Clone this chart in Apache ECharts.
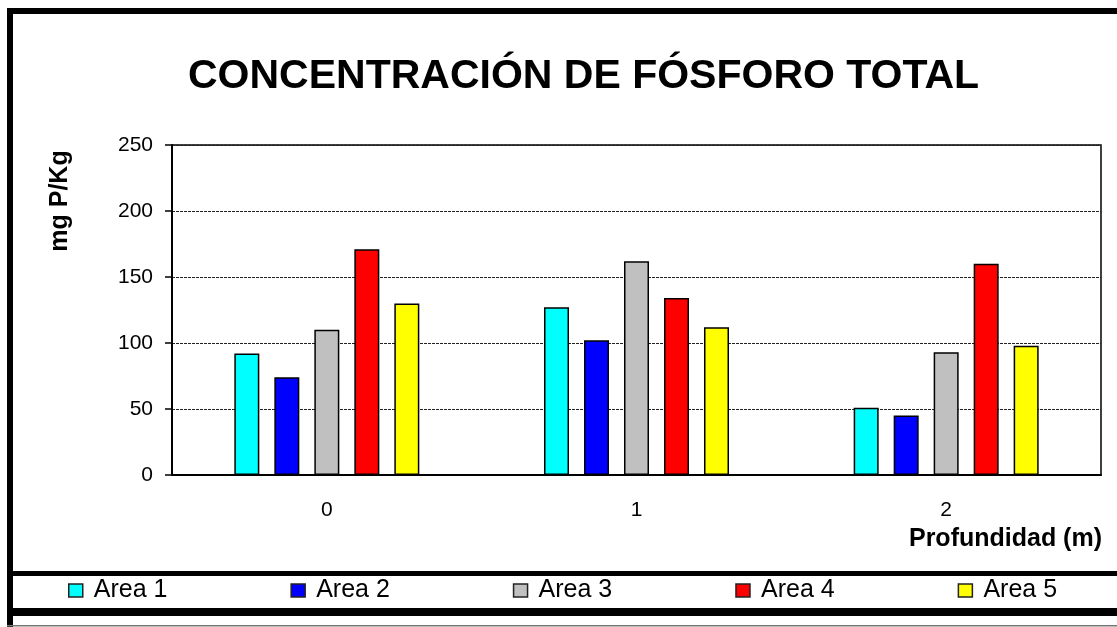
<!DOCTYPE html>
<html lang="es">
<head>
  <meta charset="UTF-8">
  <title>Concentración de fósforo total</title>
  <style>
    * { margin: 0; padding: 0; box-sizing: border-box; }
    body { background: #fff; }
    #main { width: 1117px; height: 627px; }
  </style>
</head>
<body>
  <div id="main"></div>
  <script src="https://cdn.jsdelivr.net/npm/echarts@6/dist/echarts.min.js"></script>
  <script>
    // datos
    const depths = ['0', '1', '2'];
    const seriesNames = ['Area 1', 'Area 2', 'Area 3', 'Area 4', 'Area 5'];
    const area1 = [92, 127, 51];
    const area2 = [74, 102, 45];
    const area3 = [110, 162, 93];
    const area4 = [171, 134, 160];
    const area5 = [130, 112, 98];
    const colors = ['#00ffff', '#0000ff', '#c0c0c0', '#ff0000', '#ffff00'];

    const font = "'Liberation Sans', Arial, sans-serif";
    const chart = echarts.init(document.getElementById('main'));

    const seriesData = [area1, area2, area3, area4, area5];

    chart.setOption({
      animation: false,
      color: colors,
      title: [
        {
          text: 'CONCENTRACIÓN DE FÓSFORO TOTAL',
          left: 188,
          top: 56,
          padding: 0,
          textStyle: { fontFamily: font, fontSize: 41, fontWeight: 'bold', color: '#000' }
        },
        {
          text: 'Profundidad (m)',
          right: 15,
          top: 527,
          padding: 0,
          textStyle: { fontFamily: font, fontSize: 25, fontWeight: 'bold', color: '#000' }
        }
      ],
      legend: {
        left: 68,
        top: 578,
        padding: 0,
        itemGap: 123,
        itemWidth: 14,
        itemHeight: 13,
        icon: 'rect',
        selectedMode: false,
        itemStyle: { borderColor: '#222', borderWidth: 1.5 },
        textStyle: { fontFamily: font, fontSize: 25, color: '#000', lineHeight: 25, padding: [0, 0, 0, 6] },
        data: seriesNames
      },
      grid: {
        left: 172, right: 16, top: 145, bottom: 152,
        show: true, borderColor: '#000', borderWidth: 1.5
      },
      xAxis: {
        type: 'category',
        data: depths,
        axisLine: { lineStyle: { color: '#000', width: 2 } },
        axisTick: { length: 7, lineStyle: { color: '#000', width: 1.5 } },
        axisLabel: { margin: 25, fontFamily: font, fontSize: 21, color: '#000' }
      },
      yAxis: {
        type: 'value',
        min: 0,
        max: 250,
        interval: 50,
        axisLine: { show: true, lineStyle: { color: '#000', width: 2 } },
        axisTick: { show: true, length: 7, lineStyle: { color: '#000', width: 1.5 } },
        axisLabel: { margin: 19, fontFamily: font, fontSize: 21, color: '#000' },
        splitLine: { lineStyle: { color: '#222', width: 1, type: [3, 1] } }
      },
      series: seriesData.map((vals, i) => ({
        name: seriesNames[i],
        type: 'bar',
        data: vals,
        barWidth: 25,
        barGap: '60%',
        itemStyle: { borderColor: '#000', borderWidth: 1.5 }
      })),
      graphic: [
        // marco exterior
        { type: 'rect', shape: { x: 7, y: 8, width: 1120, height: 6 }, style: { fill: '#000' } },
        { type: 'rect', shape: { x: 7, y: 8, width: 6, height: 630 }, style: { fill: '#000' } },
        { type: 'rect', shape: { x: 7, y: 571, width: 1120, height: 5 }, style: { fill: '#000' } },
        { type: 'rect', shape: { x: 7, y: 608, width: 1120, height: 8 }, style: { fill: '#000' } },
        { type: 'rect', shape: { x: 7, y: 625, width: 1120, height: 1.5 }, style: { fill: '#777' } },
        {
          type: 'text',
          x: 60,
          y: 201,
          rotation: Math.PI / 2,
          style: {
            text: 'mg P/Kg',
            font: "bold 25px 'Liberation Sans', Arial, sans-serif",
            fill: '#000',
            align: 'center',
            verticalAlign: 'middle'
          }
        }
      ]
    });
  </script>
</body>
</html>
